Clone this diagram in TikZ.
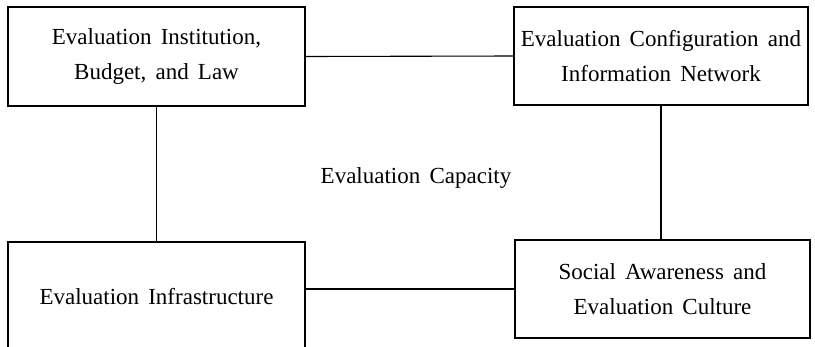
\documentclass[tikz,border=0pt]{standalone}
\usepackage{fontspec}
\setmainfont{Liberation Serif}
\usepackage{tikz}
\usetikzlibrary{positioning}

\newcommand{\widewords}{\spaceskip=0.4em plus 0.1em\relax}

\tikzset{
  capbox/.style={draw, line width=1.1pt, align=center, inner sep=0pt,
    font=\fontsize{23}{35}\selectfont\widewords},
}

\begin{document}
\begin{tikzpicture}[x=1pt, y=-1pt]
            \useasboundingbox (0,0) rectangle (815,346);

            \node[capbox, minimum width=297pt, minimum height=99pt] (inst) at (156.5,56.5) {Evaluation Institution,\\Budget, and Law};
            \node[capbox, minimum width=294pt, minimum height=98pt] (config) at (661,56) {Evaluation Configuration and\\Information Network};
            \node[capbox, minimum width=297pt, minimum height=110pt] (infra) at (156.5,297) {Evaluation Infrastructure};
            \node[capbox, minimum width=295pt, minimum height=98pt] (culture) at (662.5,289) {Social Awareness and\\Evaluation Culture};

            \node[font=\fontsize{23}{28}\selectfont\widewords] (capacity) at (416,178) {Evaluation Capacity};

            \draw[line width=1.1pt] (inst.east) -- (config.west);
            \draw[line width=1.1pt] (inst.south) -- (infra.north);
            \draw[line width=1.1pt] (config.south) -- (config.south |- culture.north);
            \draw[line width=1.1pt] (culture.west) -- (culture.west -| infra.east);
        \end{tikzpicture}
\end{document}
